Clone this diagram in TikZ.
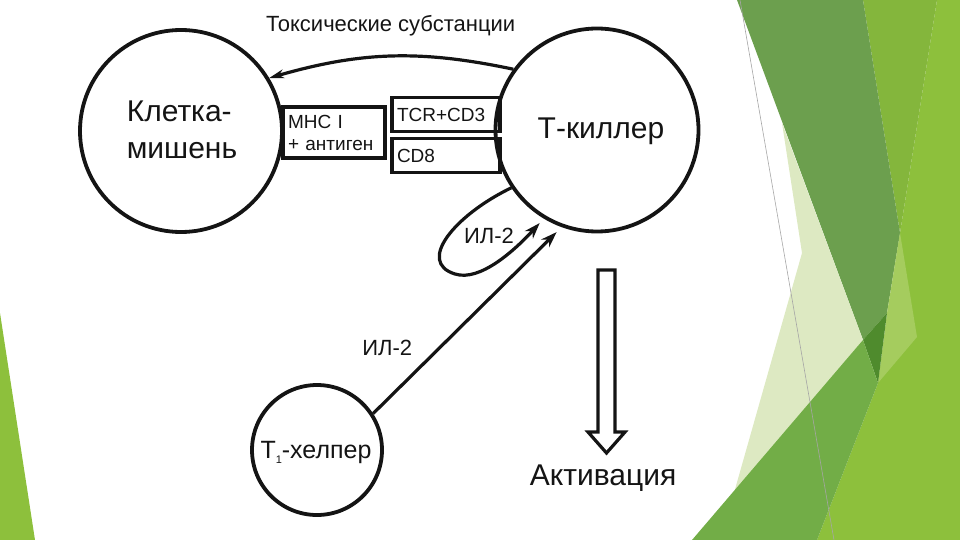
\documentclass[tikz,border=0pt]{standalone}
\usepackage{fontspec}
\setmainfont{Liberation Sans}
\usetikzlibrary{arrows.meta,positioning}
\definecolor{lime}{HTML}{8DC03C}
\definecolor{midband}{HTML}{84B63C}
\definecolor{darkband}{HTML}{6C9F4E}
\definecolor{deepband}{HTML}{4F8B2D}
\definecolor{paleband}{HTML}{DDE9C2}
\definecolor{softband}{HTML}{A5CC5E}
\definecolor{grassband}{HTML}{72AD47}
\definecolor{ink}{HTML}{141414}
\tikzstyle{cell}=[circle, draw=ink, line width=3.8pt, inner sep=0pt, text=ink]
\tikzstyle{recep}=[rectangle, draw=ink, line width=3.2pt, inner sep=5pt, align=left, text=ink, font=\fontsize{19}{22}\selectfont]
\tikzstyle{arrow}=[-{Stealth[length=16pt,width=11pt]}, line width=3.2pt, draw=ink]

\begin{document}
\begin{tikzpicture}[x=1pt, y=-1pt]

\tikzstyle{big}=[font=\fontsize{30}{37}\selectfont, text=ink]
\tikzstyle{mid}=[font=\fontsize{22}{25}\selectfont, text=ink]

\useasboundingbox (0,0) rectangle (960,540);

% background of the slide
\fill[lime] (937,0) -- (960,0) -- (960,540) -- (817,540) -- (878,383) -- (900,233) -- cycle;
\fill[midband] (863,0) -- (937,0) -- (900,233) -- cycle;
\fill[darkband] (737,0) -- (863,0) -- (900,233) -- (887,313) -- (863,340) -- cycle;
\fill[softband] (900,233) -- (917,337) -- (878,383) -- (887,313) -- cycle;
\fill[deepband] (863,340) -- (887,313) -- (878,383) -- cycle;
\fill[paleband] (782,123) -- (863,340) -- (730,507) -- (802,253) -- cycle;
\fill[grassband] (863,340) -- (878,383) -- (817,540) -- (692,540) -- cycle;
\draw[gray!70, line width=0.6pt] (740,0) -- (834,540);
\fill[lime] (0,313) -- (35,540) -- (0,540) -- cycle;

% cells
\node (K) [cell, minimum size=202pt] at (181,131) {};
\node (Ktext) [big, align=left] at (182,130) {Клетка-\\мишень};
\node (T) [cell, minimum size=203pt] at (597,130) {};
\node (Ttext) [big] at (601,131) {Т-киллер};
\node (H) [cell, minimum size=130pt] at (317,450) {};
\node (Htext) [big, font=\fontsize{25}{30}\selectfont] at (316,452) {Т{\fontsize{11}{11}\selectfont\raisebox{-5pt}{1}}-хелпер};

% receptors
\node (mhc) [recep, minimum width=102pt, minimum height=51pt, text width=92pt] at (334,132.5) {MHC I\\+ антиген};
\node (tcr) [recep, minimum width=108pt, minimum height=34pt, text width=98pt] at (446,114.5) {TCR+CD3};
\node (cd8) [recep, minimum width=108pt, minimum height=34pt, text width=98pt] at (446,155.5) {CD8};

% connectors
\draw [arrow, -{Stealth[length=15pt,width=9pt]}] (T.144) to[bend right=14] node [mid, midway, above=15pt] {Токсические субстанции} (K.31);
\draw [arrow, shorten >=6pt] (T.214) .. controls (455,215) and (416,262) .. (455,274) .. controls (480,282) and (515,250) .. (T.239);
\node (loop) [mid] at (489,236) {ИЛ-2};
\draw [arrow, shorten >=7pt] (H.33) -- node [mid, pos=0.35, left=22pt] {ИЛ-2} (T.250);

% activation
\draw[ink, line width=3.2pt, line join=miter] (598,270) -- (615,270) -- (615,432) -- (625,432) -- (606.5,453) -- (588,432) -- (598,432) -- cycle;
\node (act) [big] at (603,478) {Активация};

\end{tikzpicture}
\end{document}
